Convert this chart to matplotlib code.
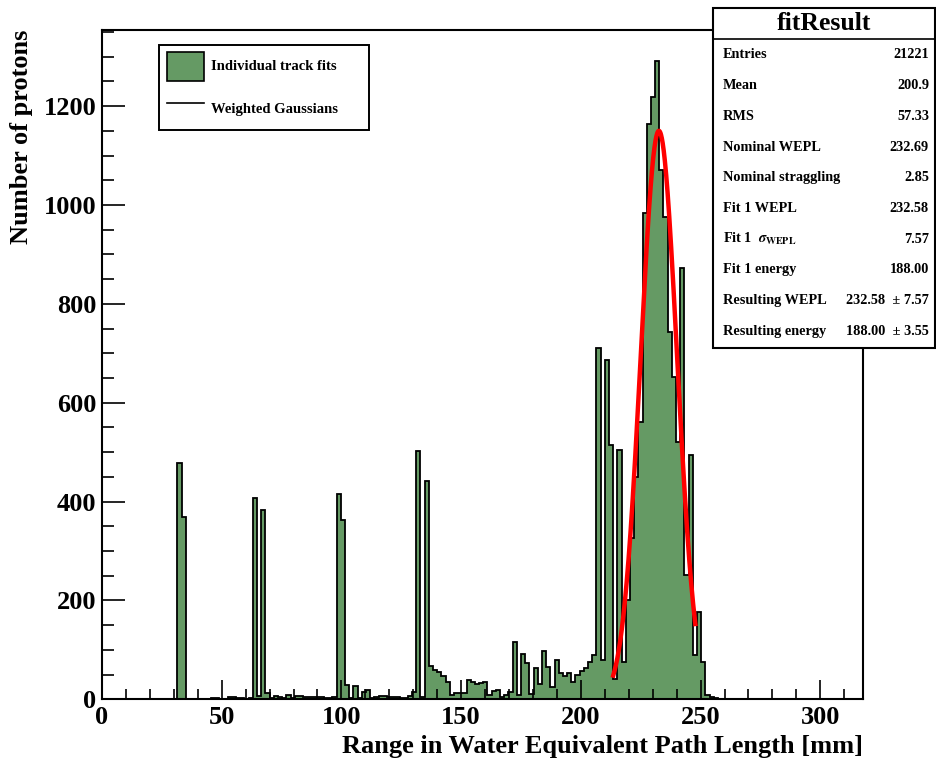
import numpy as np
import matplotlib
matplotlib.use("Agg")
import matplotlib.pyplot as plt
from matplotlib.ticker import MultipleLocator
from matplotlib.patches import Patch, Rectangle
from matplotlib.lines import Line2D

# Histogram: 1.75 mm bins starting at 0 mm, counts per bin
bin_width = 1.75
counts = [
    0, 0, 0, 0, 0, 0, 0, 0, 0, 0,          # 0-9
    0, 0, 0, 0, 0, 0, 0, 0, 478, 368,      # 10-19
    0, 0, 0, 0, 0, 0, 2, 2, 1, 0,          # 20-29
    4, 4, 3, 3, 1, 2, 408, 6, 383, 12,     # 30-39
    3, 7, 4, 3, 8, 3, 7, 6, 5, 5,          # 40-49
    4, 4, 4, 3, 3, 4, 415, 363, 29, 3,     # 50-59
    26, 2, 14, 19, 2, 5, 6, 6, 5, 4,       # 60-69
    4, 3, 3, 6, 15, 503, 5, 442, 67, 60,   # 70-79
    55, 47, 34, 8, 13, 12, 13, 40, 36, 31, # 80-89
    33, 35, 8, 16, 19, 5, 8, 14, 115, 8,   # 90-99
    92, 73, 10, 63, 30, 98, 65, 25, 80, 53,  # 100-109
    47, 53, 36, 50, 58, 63, 76, 90, 710, 80,  # 110-119
    686, 514, 42, 504, 76, 200, 326, 450, 560, 983,  # 120-129
    1164, 1218, 1292, 1071, 976, 743, 652, 521, 872, 251,  # 130-139
    494, 90, 177, 76, 9, 5, 2, 0, 0, 0,  # 140-149
]

# Weighted Gaussian result
fit_mean = 232.58
fit_sigma = 7.57
fit_amplitude = 1150
fit_range = (213.5, 247.8)

stats_labels = ["Entries", "Mean", "RMS", "Nominal WEPL", "Nominal straggling",
                "Fit 1 WEPL", r"Fit 1  $\sigma_{\mathbf{WEPL}}$", "Fit 1 energy",
                "Resulting WEPL", "Resulting energy"]
stats_values = ["21221", "200.9", "57.33", "232.69", "2.85",
                "232.58", "7.57", "188.00", "232.58  \u00b1 7.57", "188.00  \u00b1 3.55"]

green = "#659a64"
W, H = 937, 760

plt.rcParams["font.family"] = ["Liberation Serif", "DejaVu Serif"]
plt.rcParams["font.weight"] = "bold"
plt.rcParams["mathtext.fontset"] = "stix"

fig = plt.figure(figsize=(W / 100, H / 100), dpi=100)
ax = fig.add_axes([102 / W, 1 - 699.3 / H, (862.7 - 102) / W, (699.3 - 30) / H])

edges = np.arange(len(counts) + 1) * bin_width
centers = edges[:-1] + bin_width / 2
ax.hist(centers, bins=edges, weights=counts, histtype="stepfilled",
        facecolor=green, edgecolor="black", linewidth=1.3)

xf = np.linspace(fit_range[0], fit_range[1], 300)
yf = fit_amplitude * np.exp(-0.5 * ((xf - fit_mean) / fit_sigma) ** 2)
ax.plot(xf, yf, color="red", linewidth=3.2)

ax.set_xlim(0, 317.7)
ax.set_ylim(0, 1354)
ax.xaxis.set_major_locator(MultipleLocator(50))
ax.xaxis.set_minor_locator(MultipleLocator(10))
ax.yaxis.set_major_locator(MultipleLocator(200))
ax.yaxis.set_minor_locator(MultipleLocator(50))
ax.tick_params(axis="x", which="major", direction="in", length=13.5, width=1.2,
               labelsize=19, pad=5)
ax.tick_params(axis="x", which="minor", direction="in", length=7, width=1.2)
ax.tick_params(axis="y", which="major", direction="in", length=16.5, width=1.2,
               labelsize=19, pad=4)
ax.tick_params(axis="y", which="minor", direction="in", length=8.5, width=1.2)
for lab in ax.get_xticklabels() + ax.get_yticklabels():
    lab.set_fontweight("bold")
for sp in ax.spines.values():
    sp.set_linewidth(1.5)

ax.set_xlabel("Range in Water Equivalent Path Length [mm]", fontsize=19,
              fontweight="bold", loc="right")
ax.xaxis.set_label_coords(1.0, -0.054)
ax.set_ylabel("Number of protons", fontsize=19, fontweight="bold", loc="top")
ax.yaxis.set_label_coords(-0.091, 1.0)

# legend
handles = [Patch(facecolor=green, edgecolor="black", linewidth=1.2),
           Line2D([], [], color="black", linewidth=1.2)]
leg = ax.legend(handles, ["Individual track fits", "Weighted Gaussians"],
                loc="upper left", bbox_to_anchor=(160 / W, 1 - 45 / H),
                bbox_transform=fig.transFigure, frameon=False,
                prop={"family": "Liberation Serif", "weight": "bold", "size": 10.5},
                handlelength=2.55, handleheight=2.68, handletextpad=0.5,
                labelspacing=0.9, borderpad=0.45, borderaxespad=0)
fig.add_artist(Rectangle((158.5 / W, 1 - 130 / H), (369 - 158.5) / W, 85 / H,
                         transform=fig.transFigure, facecolor="none",
                         edgecolor="black", linewidth=1.4))

# stats box
box_l, box_r, box_t, box_b = 712.7, 935.5, 8.3, 347.7
fig.add_artist(Rectangle((box_l / W, 1 - box_b / H), (box_r - box_l) / W,
                         (box_b - box_t) / H, transform=fig.transFigure,
                         facecolor="white", edgecolor="black", linewidth=1.5,
                         zorder=5))
fig.add_artist(Line2D([box_l / W, box_r / W], [1 - 39.3 / H, 1 - 39.3 / H],
                      transform=fig.transFigure, color="black", linewidth=1.2,
                      zorder=6))
fig.text((box_l + box_r) / 2 / W, 1 - 24 / H, "fitResult", ha="center",
         va="center", fontsize=18.5, fontweight="bold", zorder=7)
for i, (lab, val) in enumerate(zip(stats_labels, stats_values)):
    yy = 1 - (55 + i * 30.7) / H
    fig.text(723 / W, yy, lab, ha="left", va="center", fontsize=10.3,
             fontweight="bold", zorder=7)
    fig.text(929 / W, yy, val, ha="right", va="center", fontsize=10.3,
             fontweight="bold", zorder=7)

fig.savefig("out.png", dpi=100, facecolor="white")
